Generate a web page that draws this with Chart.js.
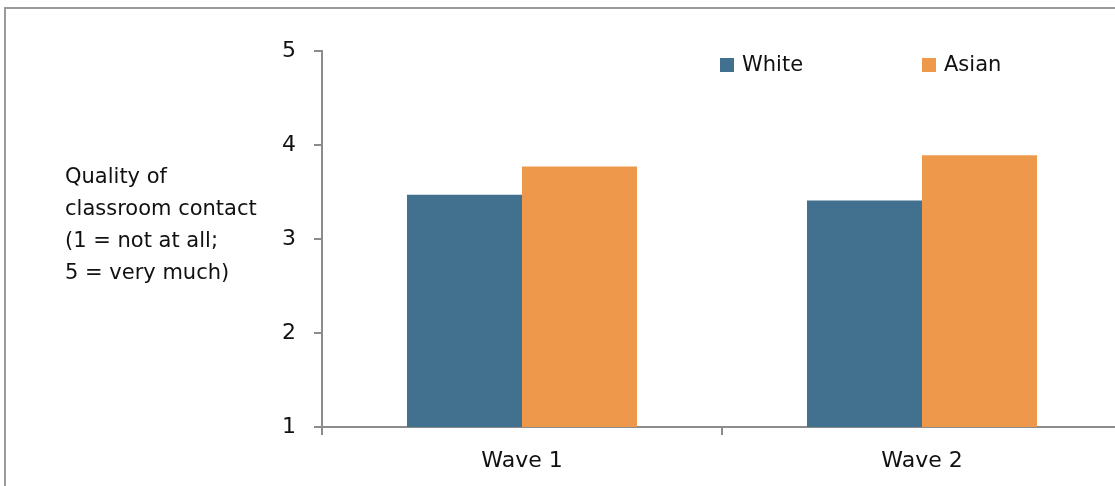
<!DOCTYPE html>
<html>
<head>
<meta charset="utf-8">
<script src="https://cdn.jsdelivr.net/npm/chart.js@4"></script>
<style>
  html, body { margin: 0; padding: 0; background: #fff; overflow: hidden; }
  #frame { position: absolute; left: 4px; top: 7px; width: 1200px; height: 600px; border: 2px solid #9a9a9a; }
  #chart { position: absolute; left: 0; top: 0; }
</style>
</head>
<body>
<div id="frame"></div>
<canvas id="chart" width="1130" height="486"></canvas>
<script>
const categories = ['Wave 1', 'Wave 2'];
const seriesNames = ['White', 'Asian'];
const whiteValues = [3.47, 3.41];
const asianValues = [3.77, 3.89];
const yTicks = [1, 2, 3, 4, 5];
const yTitleLines = ['Quality of', 'classroom contact', '(1 = not at all;', '5 = very much)'];

const FONT = '"DejaVu Sans", sans-serif';
const AXIS_GRAY = '#8c8c8c';

// y axis title (horizontal) and legend placed inside the plot like the original
const extras = {
  id: 'extras',
  afterDraw(chart) {
    const ctx = chart.ctx;
    ctx.save();
    ctx.fillStyle = '#111';
    ctx.font = '21px ' + FONT;
    ctx.textAlign = 'left';
    ctx.textBaseline = 'middle';
    yTitleLines.forEach((line, i) => ctx.fillText(line, 65, 178 + i * 32));

    const legendX = [720, 922];
    chart.data.datasets.forEach((ds, i) => {
      ctx.fillStyle = ds.backgroundColor;
      ctx.fillRect(legendX[i], 58, 14, 14);
      ctx.fillStyle = '#111';
      ctx.fillText(ds.label, legendX[i] + 22, 66);
    });
    ctx.restore();
  }
};

new Chart(document.getElementById('chart'), {
  type: 'bar',
  data: {
    labels: categories,
    datasets: [
      { label: seriesNames[0], data: whiteValues, backgroundColor: '#41718f' },
      { label: seriesNames[1], data: asianValues, backgroundColor: '#ee984b' }
    ]
  },
  options: {
    responsive: false,
    animation: false,
    layout: { padding: { top: 51, right: 8, left: 0, bottom: 0 } },
    plugins: { legend: { display: false }, tooltip: { enabled: false } },
    datasets: { bar: { categoryPercentage: 0.575, barPercentage: 1 } },
    scales: {
      x: {
        afterFit: s => { s.height = 59; },
        grid: { drawOnChartArea: false, drawTicks: true, tickLength: 8, color: AXIS_GRAY, lineWidth: 2 },
        border: { color: AXIS_GRAY, width: 2 },
        ticks: { color: '#111', font: { family: FONT, size: 22 }, padding: 13 }
      },
      y: {
        min: 1,
        max: 5,
        afterFit: s => { s.width = 322; },
        afterBuildTicks: s => { s.ticks = yTicks.map(v => ({ value: v })); },
        grid: { drawOnChartArea: false, drawTicks: true, tickLength: 8, color: AXIS_GRAY, lineWidth: 2 },
        border: { color: AXIS_GRAY, width: 2 },
        ticks: { color: '#111', font: { family: FONT, size: 22 }, padding: 18 }
      }
    }
  },
  plugins: [extras]
});
</script>
</body>
</html>
